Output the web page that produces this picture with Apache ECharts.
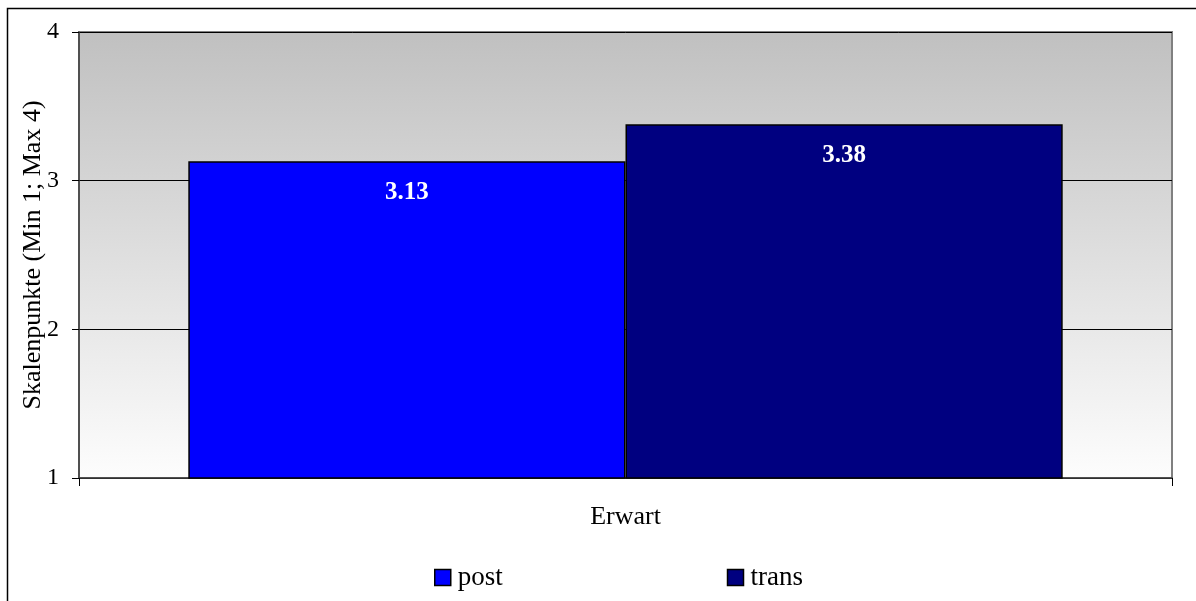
<!DOCTYPE html>
<html>
<head>
<meta charset="utf-8">
<script src="https://cdn.jsdelivr.net/npm/echarts@6/dist/echarts.min.js"></script>
<style>
  html, body { margin: 0; padding: 0; background: #fff; }
  #chart { width: 1196px; height: 601px; }
</style>
</head>
<body>
<div id="chart"></div>
<script>
// data
var categories = ['Erwart']
var seriesNames = ['post', 'trans']
var postValues = [3.13]
var transValues = [3.38]
var yTicks = [1, 2, 3, 4]

var font = '"Liberation Serif", "DejaVu Serif", serif'

var chart = echarts.init(document.getElementById('chart'))

function barSeries(name, values, color) {
  return {
    name: name,
    type: 'bar',
    data: values,
    barGap: '0%',
    barCategoryGap: '20%',
    itemStyle: {
      color: color,
      borderColor: '#000',
      borderWidth: 1.5
    },
    label: {
      show: true,
      position: 'insideTop',
      distance: 19,
      color: '#fff',
      fontFamily: font,
      fontWeight: 'bold',
      fontSize: 25,
      formatter: function (p) { return p.value.toFixed(2) }
    },
    animation: false
  }
}

chart.setOption({
  animation: false,
  textStyle: { fontFamily: font },
  graphic: [{
    type: 'rect',
    shape: { x: 7.5, y: 8.5, width: 1200, height: 600 },
    style: { fill: 'none', stroke: '#000', lineWidth: 1.5 },
    silent: true,
    z: 100
  }],
  grid: {
    left: 79,
    right: 24,
    top: 32,
    bottom: 123,
    show: true,
    borderColor: '#808080',
    borderWidth: 2,
    backgroundColor: {
      type: 'linear', x: 0, y: 0, x2: 0, y2: 1,
      colorStops: [
        { offset: 0, color: '#c0c0c0' },
        { offset: 1, color: '#fdfdfd' }
      ]
    }
  },
  legend: {
    data: seriesNames,
    icon: 'rect',
    left: 434,
    top: 564,
    padding: 0,
    itemWidth: 16,
    itemHeight: 16,
    itemGap: 224,
    textStyle: { fontFamily: font, fontSize: 27, color: '#000', padding: [0, 0, 0, 2] },
    itemStyle: { borderColor: '#000', borderWidth: 1.5 }
  },
  xAxis: {
    type: 'category',
    data: categories,
    name: categories[0],
    nameLocation: 'middle',
    nameGap: 26,
    nameTextStyle: { fontFamily: font, fontSize: 26, color: '#000' },
    axisLabel: { show: false },
    axisLine: { lineStyle: { color: '#404040', width: 1.5 } },
    axisTick: { show: true, length: 8, lineStyle: { color: '#000' } }
  },
  yAxis: {
    type: 'value',
    min: 1,
    max: 4,
    interval: 1,
    name: 'Skalenpunkte (Min 1; Max 4)',
    nameLocation: 'middle',
    nameGap: 33,
    nameMoveOverlap: false,
    nameTextStyle: { fontFamily: font, fontSize: 26, color: '#000' },
    axisLine: { show: true, lineStyle: { color: '#404040', width: 1.5 } },
    axisTick: { show: true, length: 7, lineStyle: { color: '#000' } },
    axisLabel: {
      fontFamily: font,
      fontSize: 24,
      color: '#000',
      margin: 20,
      formatter: function (v) { return yTicks.indexOf(v) >= 0 ? String(v) : '' }
    },
    splitLine: { show: true, lineStyle: { color: '#000', width: 1 } }
  },
  series: [
    barSeries(seriesNames[0], postValues, '#0000ff'),
    barSeries(seriesNames[1], transValues, '#000080')
  ]
})
</script>
</body>
</html>
